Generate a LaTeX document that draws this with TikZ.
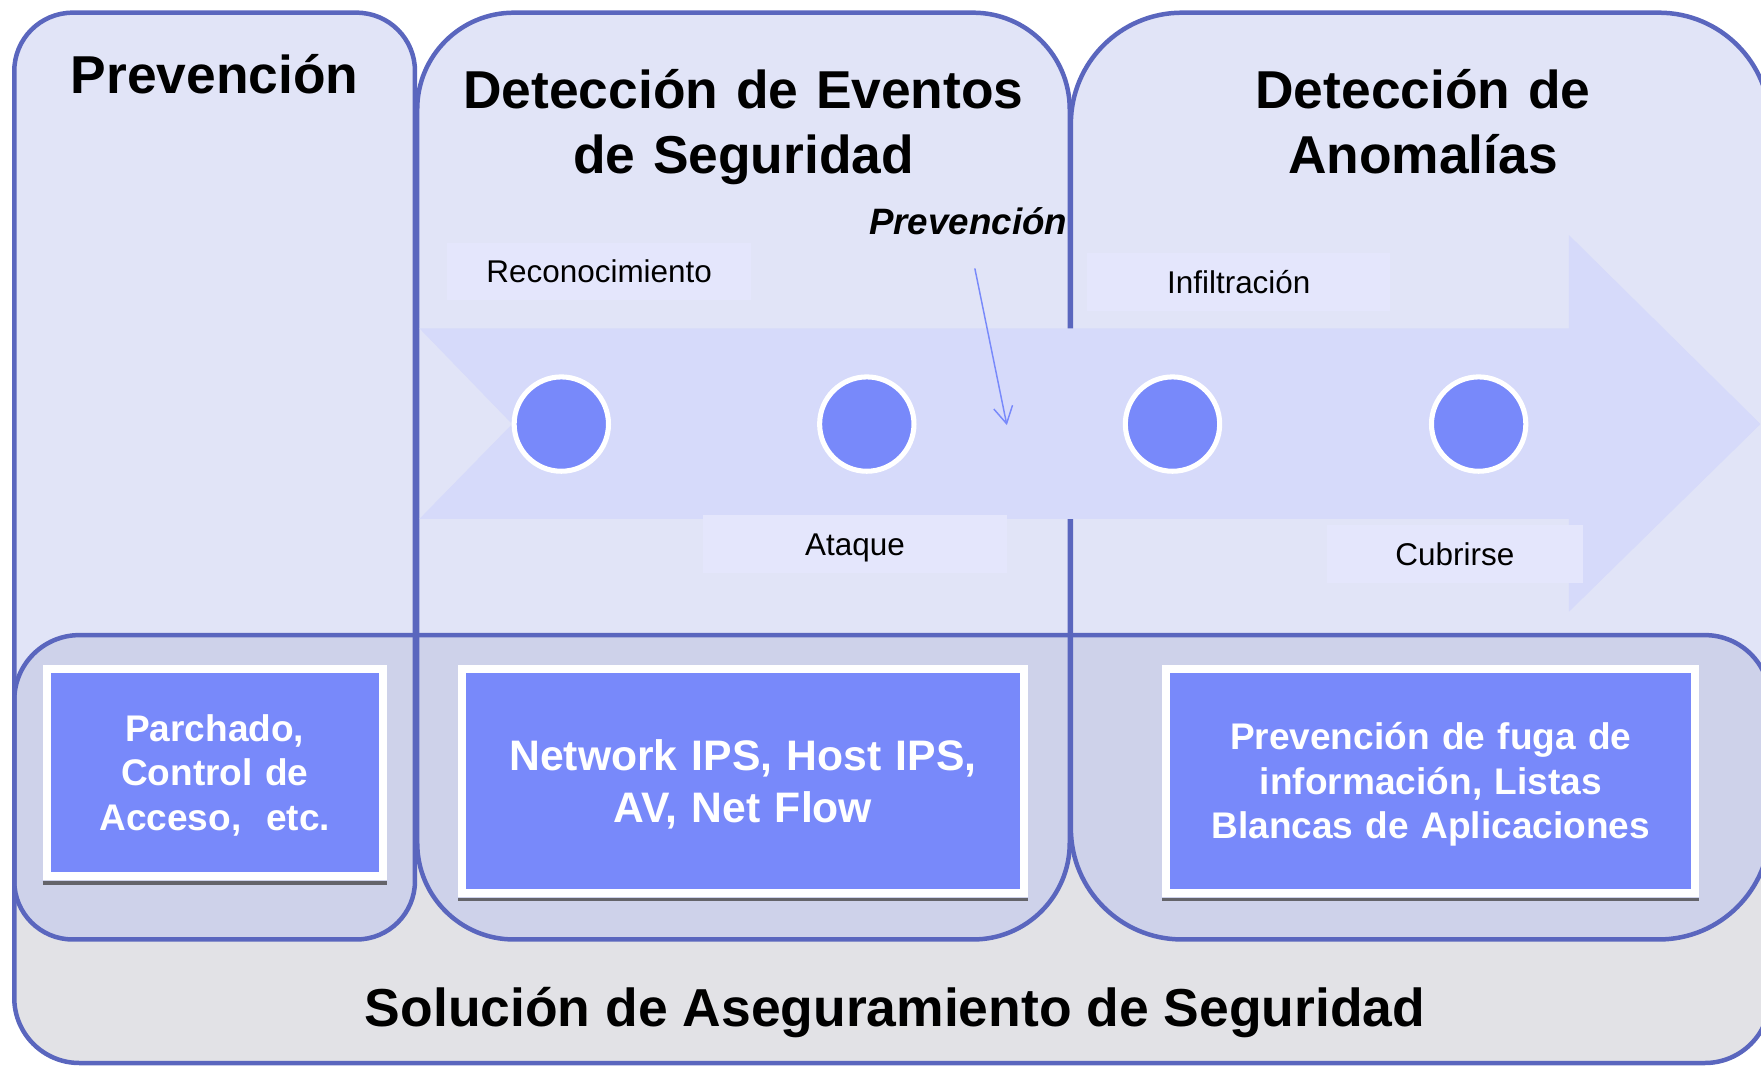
\documentclass[tikz,border=0pt]{standalone}
\usepackage{fontspec}
\setmainfont{Liberation Sans}
\usetikzlibrary{arrows.meta}

\definecolor{rim}{RGB}{90,102,190}
\definecolor{colbg}{RGB}{225,228,247}
\definecolor{bandbg}{RGB}{226,226,230}
\definecolor{overbg}{RGB}{206,210,234}
\definecolor{flow}{RGB}{214,218,250}
\definecolor{tagbg}{RGB}{228,230,252}
\definecolor{dot}{RGB}{120,137,250}
\definecolor{shade}{RGB}{100,100,106}

\tikzset{
  rimline/.style={draw=rim, line width=4pt},
  tagbox/.style={fill=tagbg, inner sep=0pt, text height=20pt, text depth=0pt,
    font=\fontsize{28}{33}\selectfont},
  stage/.style={circle, fill=dot, draw=white, line width=4.5pt, minimum size=84pt, inner sep=0pt},
  heading/.style={anchor=base, text width=560pt, align=center, inner sep=0pt,
    font=\fontsize{47.5}{57.8}\selectfont\bfseries},
  toolbox/.style={fill=dot, draw=white, line width=7pt, inner sep=0pt, text=white, align=center},
  smallbold/.style={font=\fontsize{33}{39.6}\selectfont\bfseries, text height=23.6pt, text depth=79.2pt},
  bigbold/.style={font=\fontsize{38}{46.3}\selectfont\bfseries, text height=27.2pt, text depth=46.3pt},
  shadowline/.style={draw=shade, line width=3pt},
  pointer/.style={draw=dot, line width=1.3pt, -{Straight Barb[length=15pt,width=17pt]}},
}

\begin{document}
\begin{tikzpicture}[x=1pt,y=-1pt]
\useasboundingbox (0,0) rectangle (1568,949);
\clip (0,0) rectangle (1568,949);

% backgrounds: bottom band, three columns and their overlap with the band
\fill[bandbg, rounded corners=58pt] (12.7,565.5) rectangle (1576,946.5);
\fill[colbg, rounded corners=52pt] (12.7,11.3) rectangle (369.5,836.5);
\fill[colbg, rounded corners=86pt] (371.5,11.3) rectangle (952.5,836.5);
\fill[colbg, rounded corners=99pt] (953.5,11.3) rectangle (1576,836.5);
\begin{scope}
  \clip[rounded corners=58pt] (12.7,565.5) rectangle (1576,946.5);
  \fill[overbg, rounded corners=52pt] (12.7,11.3) rectangle (369.5,836.5);
  \fill[overbg, rounded corners=86pt] (371.5,11.3) rectangle (952.5,836.5);
  \fill[overbg, rounded corners=99pt] (953.5,11.3) rectangle (1576,836.5);
\end{scope}

% outlines
\draw[rimline, rounded corners=58pt] (12.7,565.5) rectangle (1576,946.5);
\draw[rimline, rounded corners=52pt] (12.7,11.3) rectangle (369.5,836.5);
\draw[rimline, rounded corners=86pt] (371.5,11.3) rectangle (952.5,836.5);
\draw[rimline, rounded corners=99pt] (953.5,11.3) rectangle (1576,836.5);

% big process arrow
\fill[flow] (373.5,292.4) -- (1397,292.4) -- (1397,209.3) -- (1567.5,377.6)
  -- (1397,544.7) -- (1397,462) -- (373.5,462) -- (456,377.6) -- cycle;

% phase labels
\node[tagbox, minimum width=271pt, minimum height=50.3pt] (recon) at (533.5,241.9) {Reconocimiento};
\node[tagbox, minimum width=270pt, minimum height=51.4pt] (attack) at (761.35,484.3) {Ataque};
\node[tagbox, minimum width=270pt, minimum height=51pt] (infil) at (1103,251.1) {Infiltración};
\node[tagbox, minimum width=228pt, minimum height=51.4pt] (cover) at (1295.4,493.2) {Cubrirse};

% phase markers
\node[stage] (s1) at (499.8,377.6) {};
\node[stage] (s2) at (771.8,377.6) {};
\node[stage] (s3) at (1044,377.6) {};
\node[stage] (s4) at (1316.6,377.6) {};

% column headings
\node[heading, text width=340pt] (hprev) at (191,83) {Prevención};
\node[heading] (hdet) at (662,96.5) {Detección de Eventos\\de Seguridad};
\node[heading] (hanom) at (1267,96.5) {Detección de\\Anomalías};

% prevention pointer
\node[anchor=base, inner sep=0pt, font=\fontsize{32.7}{39}\selectfont\bfseries\itshape] (plabel) at (862,209) {Prevención};
\coordinate (ptail) at (868,239);
\coordinate (phead) at (896.5,378.5);
\draw[pointer] (ptail) -- (phead);

% solution boxes
\node[toolbox, smallbold, minimum width=299.3pt, minimum height=184.4pt, text width=290pt] (lbox) at (191.15,687.9)
  {Parchado,\\Control de\\Acceso,~~etc.};
\node[toolbox, bigbold, minimum width=500pt, minimum height=199.5pt, text width=490pt] (mbox) at (661.5,695.25)
  {Network IPS, Host IPS,\\AV, Net Flow};
\node[toolbox, smallbold, minimum width=471pt, minimum height=199.5pt, text width=460pt] (rbox) at (1274,695.25)
  {Prevención de fuga de\\información, Listas\\Blancas de Aplicaciones};

\draw[shadowline] ([yshift=-2.5pt]lbox.south west) -- ([yshift=-2.5pt]lbox.south east);
\draw[shadowline] ([yshift=-2.5pt]mbox.south west) -- ([yshift=-2.5pt]mbox.south east);
\draw[shadowline] ([yshift=-2.5pt]rbox.south west) -- ([yshift=-2.5pt]rbox.south east);

% band title
\node[anchor=base, inner sep=0pt, font=\fontsize{47.6}{57}\selectfont\bfseries] (title) at (797,913.6)
  {Solución de Aseguramiento de Seguridad};
\end{tikzpicture}
\end{document}
